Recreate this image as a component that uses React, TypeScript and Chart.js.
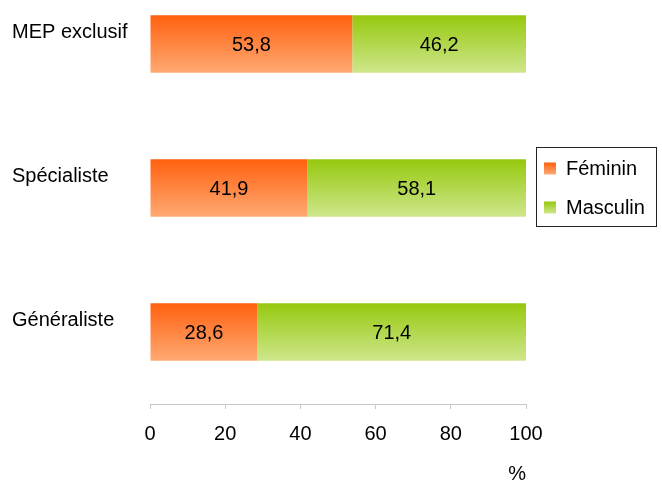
import React, { useEffect, useRef } from "react";
import { Chart, registerables } from "chart.js";

Chart.register(...registerables);

const categories = ["MEP exclusif", "Spécialiste", "Généraliste"];
const feminin = [53.8, 41.9, 28.6];
const masculin = [46.2, 58.1, 71.4];
const seriesNames = ["Féminin", "Masculin"];
const xTicks = [0, 20, 40, 60, 80, 100];
const axisUnit = "%";

const FONT = "'Liberation Sans', Arial, sans-serif";
const gradStops: [string, string][] = [
  ["#FF600E", "#FFAA74"],
  ["#96C80E", "#CEE78C"],
];

const fmt = (v: number) => v.toFixed(1).replace(".", ",");

function barGradient(ctx: any, dsIndex: number) {
  const chart = ctx.chart;
  const area = chart.chartArea;
  const y = chart.scales?.y;
  if (!area || !y || ctx.dataIndex === undefined) return gradStops[dsIndex][0];
  const cat = (area.bottom - area.top) / categories.length;
  const h = cat * 0.4;
  const c = y.getPixelForValue(ctx.dataIndex);
  const g = chart.ctx.createLinearGradient(0, c - h / 2, 0, c + h / 2);
  g.addColorStop(0, gradStops[dsIndex][0]);
  g.addColorStop(1, gradStops[dsIndex][1]);
  return g;
}

const valueLabels = {
  id: "valueLabels",
  afterDatasetsDraw(chart: any) {
    const ctx = chart.ctx;
    ctx.save();
    ctx.font = `20px ${FONT}`;
    ctx.fillStyle = "#000";
    ctx.textAlign = "center";
    ctx.textBaseline = "middle";
    chart.data.datasets.forEach((ds: any, i: number) => {
      const meta = chart.getDatasetMeta(i);
      meta.data.forEach((el: any, j: number) => {
        const x = (el.x + el.base) / 2;
        ctx.fillText(fmt(ds.data[j]), x, el.y + 1);
      });
    });
    ctx.restore();
  },
};

const boxLegend = {
  id: "boxLegend",
  afterDraw(chart: any) {
    const ctx = chart.ctx;
    const area = chart.chartArea;
    const left = area.right + 10;
    const w = 120;
    const h = 79;
    const top = (area.top + area.bottom) / 2 - h / 2 - 2;
    ctx.save();
    ctx.strokeStyle = "#222";
    ctx.lineWidth = 1;
    ctx.strokeRect(Math.round(left) + 0.5, Math.round(top) + 0.5, w, h);
    ctx.font = `20px ${FONT}`;
    ctx.textAlign = "left";
    ctx.textBaseline = "alphabetic";
    chart.data.datasets.forEach((ds: any, i: number) => {
      const base = top + 28 + i * 39;
      const sx = left + 8;
      const sy = base - 12;
      const g = ctx.createLinearGradient(0, sy, 0, sy + 12);
      g.addColorStop(0, gradStops[i][0]);
      g.addColorStop(1, gradStops[i][1]);
      ctx.fillStyle = g;
      ctx.fillRect(sx, sy, 12, 12);
      ctx.fillStyle = "#000";
      ctx.fillText(ds.label, left + 30, base);
    });
    ctx.restore();
  },
};

export default function App() {
  const ref = useRef<HTMLCanvasElement>(null);
  useEffect(() => {
    if (!ref.current) return;
    const chart = new Chart(ref.current, {
      type: "bar",
      data: {
        labels: categories,
        datasets: [
          {
            label: seriesNames[0],
            data: feminin,
            backgroundColor: (c: any) => barGradient(c, 0),
            categoryPercentage: 1,
            barPercentage: 0.4,
          },
          {
            label: seriesNames[1],
            data: masculin,
            backgroundColor: (c: any) => barGradient(c, 1),
            categoryPercentage: 1,
            barPercentage: 0.4,
          },
        ],
      },
      options: {
        indexAxis: "y",
        animation: false,
        responsive: false,
        layout: { padding: { left: 12, right: 136, top: 0, bottom: 6 } },
        plugins: {
          legend: { display: false },
          tooltip: { enabled: false },
        },
        scales: {
          x: {
            stacked: true,
            min: 0,
            max: 100,
            afterBuildTicks: (s: any) => {
              s.ticks = xTicks.map((v) => ({ value: v }));
            },
            afterFit: (s: any) => {
              s.height = 82;
            },
            grid: {
              drawOnChartArea: false,
              drawTicks: true,
              tickLength: 5,
              color: "#c8c8c8",
            },
            border: { display: true, color: "#c8c8c8" },
            ticks: {
              color: "#000",
              padding: 13,
              font: { family: FONT, size: 20 },
              maxRotation: 0,
            },
            title: {
              display: true,
              text: axisUnit,
              align: "end",
              color: "#000",
              font: { family: FONT, size: 20 },
              padding: { top: 16, bottom: 0 },
            },
          },
          y: {
            stacked: true,
            grid: { display: false },
            border: { display: false },
            afterFit: (s: any) => {
              s.width = 138;
              s.paddingTop = 0;
              s.paddingBottom = 0;
            },
            ticks: {
              crossAlign: "far",
              color: "#000",
              labelOffset: -12,
              font: { family: FONT, size: 20 },
            },
          },
        },
      },
      plugins: [valueLabels, boxLegend],
    } as any);
    return () => chart.destroy();
  }, []);
  return (
    <div
      style={{
        position: "fixed",
        left: 0,
        top: 0,
        width: 662,
        height: 482,
        overflow: "hidden",
        background: "#fff",
      }}
    >
      <div style={{ position: "absolute", left: 0, top: -28 }}>
        <canvas ref={ref} width={662} height={520} style={{ display: "block" }} />
      </div>
    </div>
  );
}
